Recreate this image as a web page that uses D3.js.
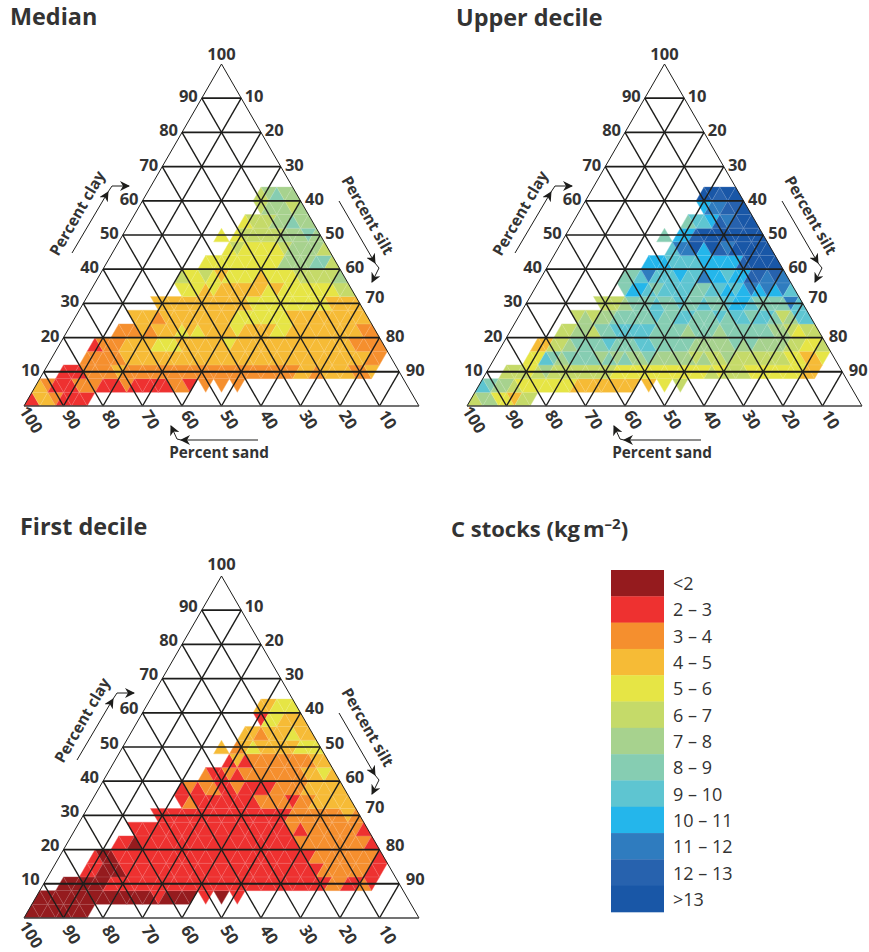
<!DOCTYPE html>
<html>
<head>
<meta charset="utf-8">
<script src="https://cdn.jsdelivr.net/npm/d3@7"></script>
<style>
html,body{margin:0;padding:0;background:#fff;overflow:hidden;width:869px;height:952px}
svg{display:block}
text{font-family:"Open Sans","Noto Sans",sans-serif;fill:#333}
</style>
</head>
<body>
<svg id="chart" width="869" height="952"></svg>
<script>
// One string per row of small triangles (bottom row first). Each character is the
// class of one lattice column, grouped in tens of columns; '.' = no data.
const medianRows = [
 "13321111..",
 ".321112221 1121111122 1.2.2.2...",
 "....111222 2322222222 2222222222 2222332333 3223",
 ".......222 2233333333 3333333333 3333333333 33322",
 "........12 2233334443 3333343333 3333333333 32222",
 ".......... .222323334 3433334333 3443333333 3322",
 ".......... ...3332333 3333334444 4443333333 333",
 ".......... ......3333 3333333344 4444444433 33",
 ".......... .........4 4434333333 4344444445 5",
 ".......... .........5 4454344443 4444555556",
 ".......... .......... ..44444444 446666775.",
 ".......... .......... .....45444 44566665..",
 ".......... .......... ....4.4555 5566676...",
 ".......... .......... .......455 566766....",
 ".......... .......... .........5 66656.....",
 ".......... .......... .........5 6766......"
];
const upperRows = [
 "56644355..",
 ".876654444 4443333333 3.3.4.5...",
 "....555456 5555555544 4444444444 5455544444 4433",
 ".......448 7677776767 6676666656 5565555555 44334",
 "........33 5567777877 7887777766 6667676666 55445",
 ".......... .556657788 8887777677 7677777766 5455",
 ".......... ...5656677 7778778877 7878878875 688",
 ".......... ......5556 7778778778 7789987777 a8",
 ".......... .........7 9987888877 88989a9a9a 8",
 ".......... .........7 78a888988a 99899bbaba",
 ".......... .......... ..99988889 9999bcccc.",
 ".......... .......... .....8aac9 cbaccccc..",
 ".......... .......... ....7.99bc ccccccc...",
 ".......... .......... .......788 9babcc....",
 ".......... .......... .........9 aabbc.....",
 ".......... .......... .........c cbcc......"
];
const firstRows = [
 "00000000..",
 ".000000000 0000001000 0.1.0.1...",
 "....000000 1111111111 1111111111 1111111122 1121",
 ".......110 0011111111 1111111111 1111111222 22211",
 "........10 0111111111 1111111111 1111112222 22221",
 ".......... .110111111 1111111111 1111222222 2221",
 ".......... ...1111111 1111111111 1112122222 221",
 ".......... ......1111 1111111111 1112222222 32",
 ".......... .........1 2111111112 2221223333 3",
 ".......... .........1 2122112111 1222233333",
 ".......... .......... ..21121222 222223343.",
 ".......... .......... .....13122 22222233..",
 ".......... .......... ....3.2343 3333444...",
 ".......... .......... .......332 333433....",
 ".......... .......... .........1 44333.....",
 ".......... .......... .........3 3444......"
];
const classLabels = ["<2","2 – 3","3 – 4","4 – 5","5 – 6","6 – 7","7 – 8","8 – 9","9 – 10","10 – 11","11 – 12","12 – 13",">13"];
const classColors = ["#951b1e","#ee3130","#f58f2e","#f6bb36","#e6e545","#c5da69","#a7d28e","#86cdb2","#5ec5d1","#24b6eb","#2f7cbf","#2762ae","#1957a7"];
const leftTicks = [10,20,30,40,50,60,70,80,90];
const rightTicks = [10,20,30,40,50,60,70,80,90];
const bottomTicks = [100,90,80,70,60,50,40,30,20,10];
const panelNames = ["Median","Upper decile","First decile"];

const svg = d3.select("#chart");
const RD = 25, CD = 50; // rows, half-unit columns

function drawPanel(name, rows, ox, oy, opts){
  const x = d3.scaleLinear().domain([0,CD]).range([ox, ox+395]);
  const y = d3.scaleLinear().domain([0,RD]).range([oy, oy-342]);
  const g = svg.append("g");
  const line = d3.line().x(d=>x(d[0])).y(d=>y(d[1]));
  const cells = [];
  rows.forEach((s,r)=>{
    s.replace(/ /g,"").split("").forEach((c,i)=>{
      if(c===".") return;
      const u=i+1, up=((u-r-1)%2===0);
      cells.push({c:parseInt(c,13),pts: up?[[u-1,r],[u+1,r],[u,r+1]]:[[u-1,r+1],[u+1,r+1],[u,r]]});
    });
  });
  g.append("g").selectAll("path").data(cells).join("path")
    .attr("d",d=>line(d.pts)+"Z")
    .attr("fill",d=>classColors[d.c])
    .attr("stroke",d=>classColors[d.c]).attr("stroke-width",0.35);
  // faint seams between triangles
  g.append("g").selectAll("path").data(cells).join("path")
    .attr("d",d=>line(d.pts)+"Z").attr("fill","none")
    .attr("stroke","#fff").attr("stroke-opacity",0.14).attr("stroke-width",0.6);

  // grid
  const grid = g.append("g").attr("stroke","#1d1d1b").attr("fill","none");
  d3.range(10,100,10).forEach(v=>{
    const r=v/4;
    grid.append("path").attr("d",line([[r,r],[CD-r,r]])).attr("stroke-width",v===10?1.9:1.7);
  });
  d3.range(10,100,10).forEach(v=>{
    const u=v/2;
    grid.append("path").attr("d",line([[u,0],[u+(CD-u)/2,(CD-u)/2]])).attr("stroke-width",1.4);
    grid.append("path").attr("d",line([[u,0],[u/2,u/2]])).attr("stroke-width",1.4);
  });
  grid.append("path").attr("d",line([[0,0],[CD/2,RD],[CD,0]])).attr("stroke-width",1);
  grid.append("path").attr("d",line([[0,0],[CD,0]])).attr("stroke-width",1.4).attr("stroke","#444");

  // tick labels
  const ls = opts.labelShift||0;
  const lab = g.append("g").attr("font-size",16.5).attr("font-weight",700);
  lab.append("text").attr("x",x(CD/2)).attr("y",y(RD)-4+ls).attr("text-anchor","middle").text("100");
  leftTicks.forEach(v=>{
    const r=(v)/4;
    lab.append("text").attr("x",x(r)-4).attr("y",y(r)+4+ls).attr("text-anchor","end").text(v);
  });
  rightTicks.forEach(v=>{
    const r=(100-v)/4;
    lab.append("text").attr("x",x(CD-r)+3+v*0.04).attr("y",y(r)+4+ls-(v===70?4:0)).attr("text-anchor","start").text(v);
  });
  bottomTicks.forEach(v=>{
    const u=(100-v)/2;
    lab.append("text").attr("transform",`translate(${x(u)+(v===100?5:6)},${oy+opts.bottomDy}) rotate(58)`)
      .attr("text-anchor","middle").attr("dy","0.2em").text(v);
  });

  // axis titles and arrows
  const ax = g.append("g");
  const dl = opts.clayShift||[0,0];
  ax.append("text").attr("font-size",15.5).attr("font-weight",700)
    .attr("transform",`translate(${ox+58+dl[0]},${oy-190+dl[1]}) rotate(-60)`).attr("text-anchor","middle").text("Percent clay");
  ax.append("text").attr("font-size",15.5).attr("font-weight",700)
    .attr("transform",`translate(${ox+339},${oy-188}) rotate(60)`).attr("text-anchor","middle").text("Percent silt");
  const arrow=(pts)=>{
    ax.append("path").attr("d",d3.line()(pts)).attr("fill","none").attr("stroke","#1d1d1b").attr("stroke-width",1)
      .attr("marker-end","url(#ah)");
  };
  arrow([[ox+48+dl[0],oy-153+dl[1]],[ox+84+dl[0],oy-214+dl[1]]]);
  arrow([[ox+84+dl[0],oy-214+dl[1]],[ox+88+dl[0],oy-220+dl[1]],[ox+105+dl[0],oy-220+dl[1]]]);
  arrow([[ox+315,oy-205],[ox+351,oy-143]]);
  arrow([[ox+351,oy-143],[ox+355,oy-138],[ox+348,oy-124]]);
  if(opts.sand){
    ax.append("text").attr("font-size",15.3).attr("font-weight",700).attr("x",ox+195).attr("y",oy+52).attr("text-anchor","middle").text("Percent sand");
    arrow([[ox+234,oy+34],[ox+157,oy+34]]);
    arrow([[ox+157,oy+34],[ox+153,oy+33],[ox+147,oy+20]]);
  }
  // panel title
  svg.append("text").attr("x",opts.tx).attr("y",opts.ty).attr("font-size",23.4).attr("font-weight",700).text(name);
}

const defs = svg.append("defs");
defs.append("marker").attr("id","ah").attr("viewBox","0 0 10 10").attr("refX",9).attr("refY",5)
  .attr("markerWidth",10).attr("markerHeight",10).attr("markerUnits","userSpaceOnUse").attr("orient","auto")
  .append("path").attr("d","M0,0L10,5L0,10L3,5Z").attr("fill","#1d1d1b");

drawPanel(panelNames[0],medianRows,24,406,{tx:10,ty:25,sand:true,bottomDy:15});
drawPanel(panelNames[1],upperRows,467,406,{tx:456,ty:26,sand:true,bottomDy:15});
drawPanel(panelNames[2],firstRows,24,918,{tx:20,ty:535,clayShift:[5,-5],labelShift:-2.5,bottomDy:18});

// legend
const ly = d3.scaleBand().domain(classLabels).range([570,912]);
const leg = svg.append("g");
leg.selectAll("rect").data(classLabels).join("rect")
  .attr("x",611).attr("width",53).attr("y",d=>ly(d)).attr("height",ly.bandwidth()+0.3)
  .attr("fill",(d,i)=>classColors[i]);
leg.selectAll("text").data(classLabels).join("text")
  .attr("x",673).attr("y",d=>ly(d)+ly.bandwidth()/2+7).attr("font-size",18).attr("font-weight",400).text(d=>d);
const t = svg.append("text").attr("x",451).attr("y",537).attr("font-size",22).attr("font-weight",700);
t.append("tspan").text("C stocks (kg");
t.append("tspan").attr("dx",3).text("m");
t.append("tspan").attr("font-size",15).attr("dy",-8).text("–2");
t.append("tspan").attr("dy",8).text(")");
</script>
</body>
</html>
